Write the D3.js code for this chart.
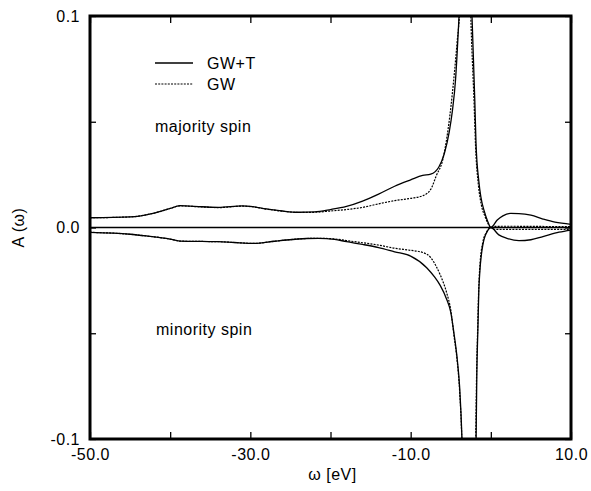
<!DOCTYPE html>
<html>
<head>
<meta charset="utf-8">
<script src="https://d3js.org/d3.v7.min.js"></script>
<style>
  body { margin: 0; background: #fff; }
  svg text { font-family: "Liberation Sans", Arial, Helvetica, sans-serif; font-size: 16px; fill: #000; letter-spacing: 0.5px; }
</style>
</head>
<body>
<svg width="591" height="491"></svg>
<script>
// axis ticks
var xTicks = [-50, -40, -30, -20, -10, 0, 10];
var xLabels = [-50, -30, -10, 10];
var yTicks = [-0.1, -0.05, 0, 0.05, 0.1];
var yLabels = [-0.1, 0, 0.1];

// spectral function, [omega (eV), A]
var majGWT = [
  [-50, 0.0046], [-45, 0.0050], [-42, 0.0068], [-40, 0.0090], [-38.8, 0.0103],
  [-36, 0.0098], [-34, 0.0095], [-31, 0.0102], [-30, 0.0100], [-28, 0.0088],
  [-26, 0.0078], [-24, 0.0072], [-22, 0.0074], [-20, 0.0085], [-18, 0.0100],
  [-16, 0.0125], [-14, 0.0158], [-12, 0.0195], [-10, 0.0225], [-8.5, 0.0246],
  [-7.5, 0.0252], [-6.5, 0.0285], [-5.8, 0.035], [-5.2, 0.045], [-4.8, 0.055],
  [-4.4, 0.070], [-4.1, 0.090], [-3.9, 0.106], [-3.6, 0.15], [-3.15, 0.3],
  [-2.7, 0.15], [-2.35, 0.100], [-2.0, 0.060], [-1.85, 0.040], [-1.5, 0.022],
  [-1.25, 0.0146], [-0.8, 0.0075], [-0.4, 0.003], [0, 0.0],
  [0.8, 0.0035], [1.5, 0.0055], [2.5, 0.0067], [3.5, 0.0066], [5, 0.0058],
  [6.5, 0.0040], [8, 0.0025], [10, 0.0015]
];
var majGW = [
  [-50, 0.0046], [-45, 0.0050], [-42, 0.0068], [-40, 0.0090], [-38.8, 0.0102],
  [-36, 0.0097], [-34, 0.0094], [-31, 0.0101], [-30, 0.0099], [-28, 0.0087],
  [-26, 0.0077], [-24, 0.0071], [-22, 0.0072], [-20, 0.0078], [-18, 0.0085],
  [-16, 0.0095], [-14, 0.0112], [-12, 0.0127], [-10, 0.0138], [-8.5, 0.0150],
  [-7.5, 0.0180], [-6.8, 0.0245], [-6.0, 0.032], [-5.4, 0.0446], [-4.8, 0.0634],
  [-4.2, 0.088], [-3.9, 0.103], [-3.6, 0.15], [-3.2, 0.3],
  [-2.8, 0.15], [-2.5, 0.100], [-2.1, 0.060], [-1.9, 0.038], [-1.55, 0.020],
  [-1.2, 0.011], [-0.7, 0.005], [-0.3, 0.0015], [0, 0.0],
  [0.5, 0.0005], [2, 0.0006], [6, 0.0005], [10, 0.0004]
];
var minGWT = [
  [-50, -0.0023], [-45, -0.0032], [-43, -0.0040], [-40, -0.0055], [-38.8, -0.0064],
  [-36, -0.0066], [-34, -0.0067], [-32, -0.0071], [-29.5, -0.0075], [-27, -0.0065],
  [-25.5, -0.0059], [-23, -0.0052], [-21.5, -0.0051], [-19.5, -0.0056], [-18, -0.0067],
  [-16, -0.0080], [-14, -0.0095], [-12, -0.0115], [-10, -0.0135], [-8, -0.0190],
  [-7, -0.0235], [-6.3, -0.0275], [-5.5, -0.034], [-5.0, -0.040], [-4.6, -0.050],
  [-4.2, -0.062], [-3.9, -0.075], [-3.6, -0.100], [-3.3, -0.15], [-2.7, -0.3],
  [-2.1, -0.15], [-1.85, -0.105], [-1.75, -0.070], [-1.6, -0.046], [-1.5, -0.030],
  [-1.4, -0.0225], [-1.0, -0.0083], [-0.4, -0.0015], [0, 0.0],
  [1, -0.0035], [2, -0.0051], [3.5, -0.0062], [5, -0.0058], [6.5, -0.0043],
  [8.5, -0.0022], [10, -0.0012]
];
var minGW = [
  [-50, -0.0023], [-45, -0.0032], [-43, -0.0040], [-40, -0.0055], [-38.8, -0.0064],
  [-36, -0.0066], [-34, -0.0067], [-32, -0.0071], [-29.5, -0.0075], [-27, -0.0065],
  [-25.5, -0.0059], [-23, -0.0052], [-21.5, -0.0051], [-19.5, -0.0054], [-18, -0.0062],
  [-16, -0.0072], [-14, -0.0083], [-12, -0.0098], [-10, -0.0108], [-8.5, -0.0118],
  [-7.5, -0.0142], [-6.8, -0.0185], [-6.3, -0.0225], [-5.5, -0.031], [-5.0, -0.039],
  [-4.6, -0.051], [-4.2, -0.063], [-3.9, -0.077], [-3.6, -0.102], [-3.3, -0.15],
  [-2.7, -0.3], [-2.1, -0.15], [-1.9, -0.105], [-1.78, -0.070], [-1.63, -0.046],
  [-1.52, -0.030], [-1.4, -0.020], [-1.0, -0.007], [-0.5, -0.002], [0, 0.0],
  [0.5, -0.0009], [3, -0.0009], [10, -0.0009]
];

var svg = d3.select("svg");
var pLeft = 90, pRight = 571, pTop = 16, pBottom = 439;

var x = d3.scaleLinear().domain([-50, 10]).range([pLeft, pRight]);
var y = d3.scaleLinear().domain([-0.1, 0.1]).range([pBottom, pTop]);

svg.append("clipPath").attr("id", "plot")
  .append("rect")
  .attr("x", pLeft).attr("y", pTop)
  .attr("width", pRight - pLeft).attr("height", pBottom - pTop);

// zero line
svg.append("line")
  .attr("x1", pLeft).attr("x2", pRight)
  .attr("y1", y(0)).attr("y2", y(0))
  .attr("stroke", "#000").attr("stroke-width", 1.4);

var line = d3.line()
  .x(function(d) { return x(d[0]); })
  .y(function(d) { return y(d[1]); })
  .curve(d3.curveMonotoneX);

var series = [
  {data: majGW, dash: "2,1.2"},
  {data: minGW, dash: "2,1.2"},
  {data: majGWT, dash: null},
  {data: minGWT, dash: null}
];

svg.append("g").attr("clip-path", "url(#plot)")
  .selectAll("path")
  .data(series)
  .enter().append("path")
  .attr("d", function(d) { return line(d.data); })
  .attr("fill", "none")
  .attr("stroke", "#000")
  .attr("stroke-width", function(d) { return d.dash ? 1.2 : 1.3; })
  .attr("stroke-dasharray", function(d) { return d.dash; });

// axes, ticks pointing inward on all four sides
function fmt(labels) {
  return function(d) {
    return labels.some(function(v) { return Math.abs(v - d) < 1e-9; }) ? d.toFixed(1) : "";
  };
}

var gx = svg.append("g").attr("transform", "translate(0," + pBottom + ")")
  .call(d3.axisBottom(x).tickValues(xTicks).tickSize(-7).tickPadding(10).tickFormat(fmt(xLabels)));
svg.append("g").attr("transform", "translate(0," + pTop + ")")
  .call(d3.axisTop(x).tickValues(xTicks).tickSize(-7).tickFormat(""));
var gy = svg.append("g").attr("transform", "translate(" + pLeft + ",0)")
  .call(d3.axisLeft(y).tickValues(yTicks).tickSize(-6).tickPadding(10).tickFormat(fmt(yLabels)));
svg.append("g").attr("transform", "translate(" + pRight + ",0)")
  .call(d3.axisRight(y).tickValues(yTicks).tickSize(-6).tickFormat(""));

svg.selectAll(".domain").remove();
svg.selectAll(".tick line").attr("stroke", "#000").attr("stroke-width", 1.3);
svg.selectAll(".tick text").style("font-size", "16px").attr("fill", "#000");
gx.selectAll(".tick text").attr("dy", "0.71em");

// frame
svg.append("rect")
  .attr("x", pLeft).attr("y", pTop)
  .attr("width", pRight - pLeft).attr("height", pBottom - pTop)
  .attr("fill", "none").attr("stroke", "#000").attr("stroke-width", 3);

// axis titles
svg.append("text")
  .attr("text-anchor", "middle")
  .attr("transform", "translate(24," + y(0) + ") rotate(-90)")
  .text("A (\u03c9)");
svg.append("text")
  .attr("x", x(-20) + 2).attr("y", 480)
  .attr("text-anchor", "middle")
  .text("\u03c9 [eV]");

// legend
var legend = [
  {name: "GW+T", dash: null},
  {name: "GW", dash: "2,1.2"}
];
var lg = svg.append("g");
lg.selectAll("line").data(legend).enter().append("line")
  .attr("x1", 155).attr("x2", 193)
  .attr("y1", function(d, i) { return 63 + i * 21; })
  .attr("y2", function(d, i) { return 63 + i * 21; })
  .attr("stroke", "#000")
  .attr("stroke-width", function(d) { return d.dash ? 1.2 : 1.3; })
  .attr("stroke-dasharray", function(d) { return d.dash; });
lg.selectAll("text").data(legend).enter().append("text")
  .attr("x", 207)
  .attr("y", function(d, i) { return 69 + i * 21; })
  .text(function(d) { return d.name; });

svg.append("text").attr("x", 155).attr("y", 132).text("majority spin");
svg.append("text").attr("x", 156).attr("y", 335).text("minority spin");
</script>
</body>
</html>
